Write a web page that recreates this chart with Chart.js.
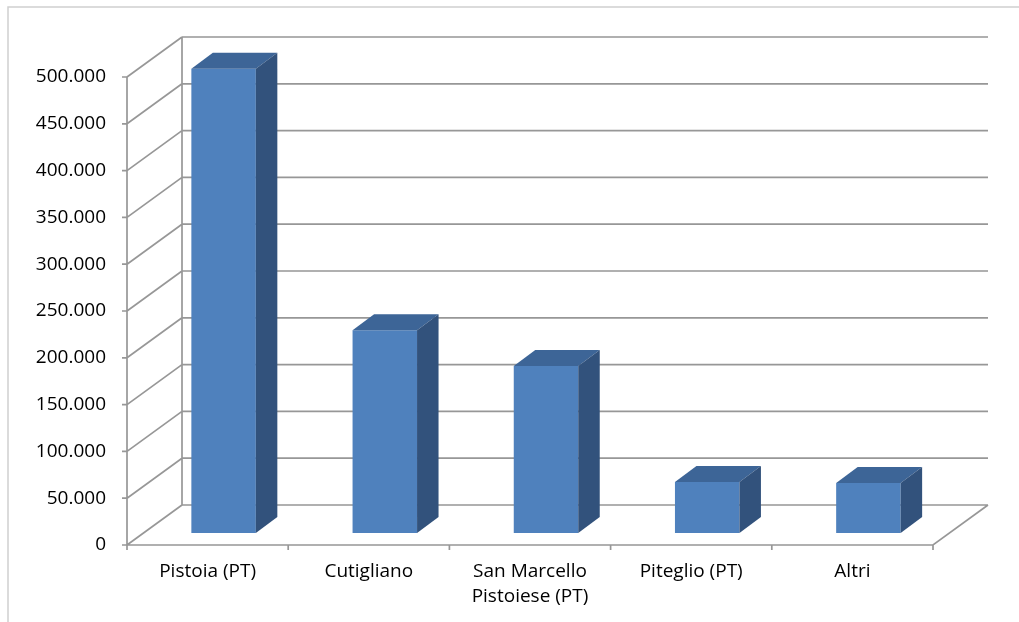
<!DOCTYPE html>
<html>
<head>
<meta charset="utf-8">
<title>Pistoia e dintorni</title>
<script src="https://cdn.jsdelivr.net/npm/chart.js@4/dist/chart.umd.min.js"></script>
<style>
  html, body { margin: 0; padding: 0; background: #ffffff; }
  #wrap { width: 1019px; height: 622px; position: relative; }
</style>
</head>
<body>
<div id="wrap"><canvas id="chart" width="1019" height="622"></canvas></div>
<script>
// Categories (multi-line label as an array) and their values
const categories = ['Pistoia (PT)', 'Cutigliano', ['San Marcello', 'Pistoiese (PT)'], 'Piteglio (PT)', 'Altri'];
const values = [496000, 216500, 178500, 54500, 53500];

// Value axis range and step
const yMin = 0;
const yMax = 500000;
const yStep = 50000;

// Italian thousands separator
function fmt(n) {
  return String(n).replace(/\B(?=(\d{3})+(?!\d))/g, '.');
}

// Perspective of the 3D box: full depth of the floor, position and depth of the bars
const WALL = { dx: 55, dy: -40 };
const BAR_SHIFT = { dx: 16, dy: -12 };
const BAR_DEPTH = { dx: 21.5, dy: -16 };

const LINE = '#979797';
const FRONT = '#4f81bd';
const TOP = '#3d6597';
const SIDE = '#32527c';
const LABEL_FONT = { family: 'Open Sans', size: 19, lineHeight: 1.316 };

const box3d = {
  id: 'box3d',
  beforeDraw(chart) {
    const ctx = chart.ctx;
    ctx.save();
    ctx.fillStyle = '#ffffff';
    ctx.fillRect(0, 0, chart.width, chart.height);
    ctx.strokeStyle = '#cfcfcf';
    ctx.lineWidth = 1.5;
    ctx.strokeRect(8, 7, chart.width + 20, chart.height + 20);
    ctx.restore();
  },
  beforeDatasetsDraw(chart) {
    const ctx = chart.ctx;
    const { left, right, top, bottom } = chart.chartArea;
    const y = chart.scales.y;
    ctx.save();
    ctx.strokeStyle = LINE;
    ctx.lineWidth = 1.7;
    ctx.lineCap = 'butt';
    ctx.beginPath();
    for (let v = yMin; v <= yMax; v += yStep) {
      const yp = y.getPixelForValue(v);
      // back wall gridline
      ctx.moveTo(left + WALL.dx, yp + WALL.dy);
      ctx.lineTo(right + WALL.dx, yp + WALL.dy);
      // side wall diagonal
      ctx.moveTo(left, yp);
      ctx.lineTo(left + WALL.dx, yp + WALL.dy);
      // tick mark
      ctx.moveTo(left - 5, yp);
      ctx.lineTo(left, yp);
    }
    // front vertical axis and back wall edge
    ctx.moveTo(left, top);
    ctx.lineTo(left, bottom);
    ctx.moveTo(left + WALL.dx, top + WALL.dy);
    ctx.lineTo(left + WALL.dx, bottom + WALL.dy);
    // floor front edge and right edge
    ctx.moveTo(left, bottom);
    ctx.lineTo(right, bottom);
    ctx.lineTo(right + WALL.dx, bottom + WALL.dy);
    // category tick marks
    const n = categories.length;
    for (let i = 0; i <= n; i++) {
      const xp = left + (right - left) * i / n;
      ctx.moveTo(xp, bottom);
      ctx.lineTo(xp, bottom + 5);
    }
    ctx.stroke();
    ctx.restore();

    // bars sit part way into the depth of the floor
    ctx.save();
    ctx.translate(BAR_SHIFT.dx, BAR_SHIFT.dy);
  },
  afterDatasetsDraw(chart) {
    const ctx = chart.ctx;
    const meta = chart.getDatasetMeta(0);
    meta.data.forEach((bar) => {
      const { x, y, base, width } = bar.getProps(['x', 'y', 'base', 'width'], true);
      const l = x - width / 2;
      const r = x + width / 2;
      const dx = BAR_DEPTH.dx, dy = BAR_DEPTH.dy;
      // top face
      ctx.fillStyle = TOP;
      ctx.beginPath();
      ctx.moveTo(l, y);
      ctx.lineTo(r, y);
      ctx.lineTo(r + dx, y + dy);
      ctx.lineTo(l + dx, y + dy);
      ctx.closePath();
      ctx.fill();
      // side face
      ctx.fillStyle = SIDE;
      ctx.beginPath();
      ctx.moveTo(r, y);
      ctx.lineTo(r + dx, y + dy);
      ctx.lineTo(r + dx, base + dy);
      ctx.lineTo(r, base);
      ctx.closePath();
      ctx.fill();
    });
    ctx.restore();
  }
};

new Chart(document.getElementById('chart'), {
  type: 'bar',
  data: {
    labels: categories,
    datasets: [{
      data: values,
      backgroundColor: FRONT,
      borderWidth: 0,
      barPercentage: 0.4,
      categoryPercentage: 1.0,
      clip: false
    }]
  },
  options: {
    responsive: false,
    animation: false,
    devicePixelRatio: 1,
    layout: { padding: { left: 0, top: 77, right: 86, bottom: 0 } },
    plugins: {
      legend: { display: false },
      tooltip: { enabled: false }
    },
    scales: {
      x: {
        grid: { display: false, drawTicks: false },
        border: { display: false },
        ticks: {
          color: '#000000',
          font: LABEL_FONT,
          padding: 14,
          maxRotation: 0,
          autoSkip: false
        },
        afterFit(scale) { scale.height = 77; }
      },
      y: {
        min: yMin,
        max: yMax,
        grid: { display: false, drawTicks: false },
        border: { display: false },
        ticks: {
          stepSize: yStep,
          color: '#000000',
          font: LABEL_FONT,
          padding: 21,
          callback: (v) => fmt(v)
        },
        afterFit(scale) { scale.width = 127; }
      }
    }
  },
  plugins: [box3d]
});
</script>
</body>
</html>
